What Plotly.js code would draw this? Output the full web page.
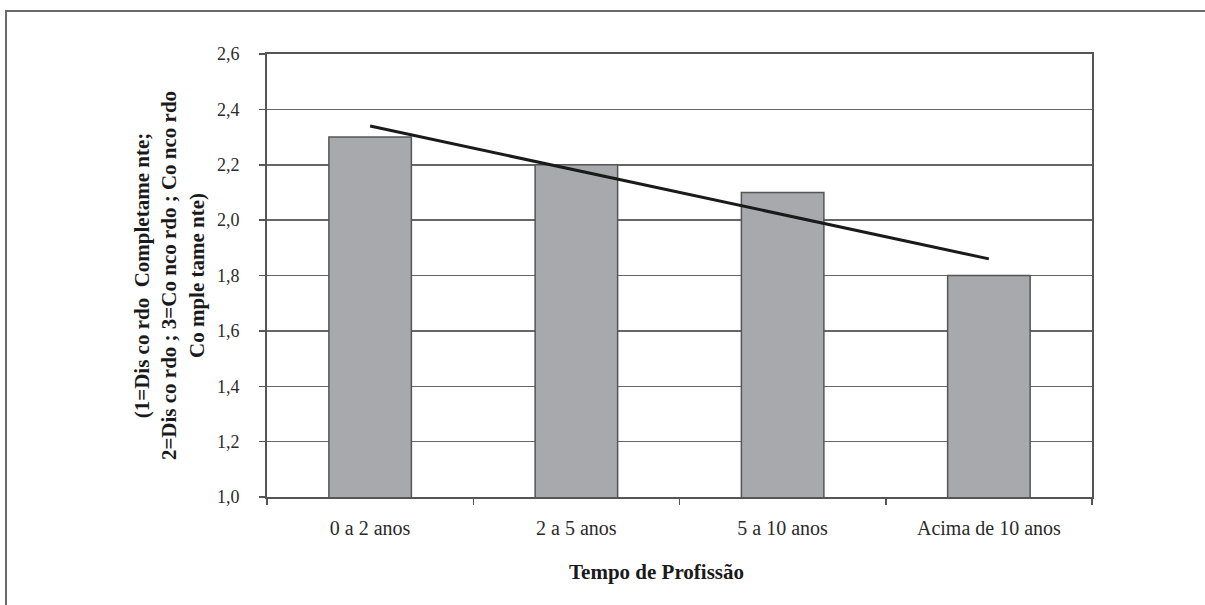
<!DOCTYPE html>
<html>
<head>
<meta charset="utf-8">
<script src="https://cdn.plot.ly/plotly-3.0.1.min.js"></script>
<style>
  html, body { margin: 0; padding: 0; background: #fff; }
  #frame { position: absolute; left: 5px; top: 10px; width: 1200px; height: 595px;
           border-left: 2px solid #6a6a6a; border-top: 2px solid #6a6a6a; }
  #chart { position: absolute; left: 0; top: 0; width: 1205px; height: 605px; }
</style>
</head>
<body>
<div id="frame"></div>
<div id="chart"></div>
<script>
const categories = ['0 a 2 anos', '2 a 5 anos', '5 a 10 anos', 'Acima de 10 anos'];
const values = [2.3, 2.2, 2.1, 1.8];
const trendCategories = ['0 a 2 anos', 'Acima de 10 anos'];
const trendValues = [2.34, 1.86];
const yTitleLines = ['(1=Dis co rdo  Completame nte;', '2=Dis co rdo ; 3=Co nco rdo ; Co nco rdo', 'Co mple tame nte)'];
const xTitle = 'Tempo de Profissão';

const serif = '"Liberation Serif", "DejaVu Serif", serif';

const traces = [
  {
    type: 'bar', x: categories, y: values,
    marker: { color: '#a8a9ac', line: { color: '#555555', width: 1.5 } },
    hoverinfo: 'none'
  },
  {
    type: 'scatter', mode: 'lines', x: trendCategories, y: trendValues,
    line: { color: '#1a1a1a', width: 3 },
    hoverinfo: 'none'
  }
];

const layout = {
  width: 1205, height: 605,
  paper_bgcolor: 'rgba(0,0,0,0)', plot_bgcolor: 'rgba(0,0,0,0)',
  margin: { l: 267, r: 113, t: 54, b: 108 },
  showlegend: false,
  bargap: 0.6,
  separators: ',.',
  font: { family: serif, color: '#2a2a2a', size: 17 },
  xaxis: {
    type: 'category',
    showline: true, linecolor: '#555555', linewidth: 2, mirror: true,
    ticks: 'outside', tickson: 'boundaries', ticklen: 6, tickcolor: '#555555', tickwidth: 1.5,
    ticklabelstandoff: 12,
    tickfont: { family: serif, size: 20, color: '#2a2a2a' },
    showgrid: false, zeroline: false
  },
  yaxis: {
    range: [1.0, 2.6], dtick: 0.2, tick0: 1.0, tickformat: '.1f',
    showline: true, linecolor: '#555555', linewidth: 2, mirror: true,
    ticks: 'outside', ticklen: 6, tickcolor: '#555555', tickwidth: 1.5,
    ticklabelstandoff: 16,
    tickfont: { family: serif, size: 18, color: '#2a2a2a' },
    showgrid: true, gridcolor: '#666666', gridwidth: 1.5, zeroline: false,
    title: { text: yTitleLines.join('<br>'), font: { family: serif, size: 21, color: '#1a1a1a', weight: 'bold' }, standoff: 7 }
  },
  annotations: [
    { text: '<b>' + xTitle + '</b>', xref: 'paper', yref: 'paper', x: 0.472, y: -0.17,
      xanchor: 'center', yanchor: 'middle', showarrow: false,
      font: { family: serif, size: 21, color: '#1a1a1a' } }
  ]
};

Plotly.newPlot('chart', traces, layout, { displayModeBar: false, staticPlot: true });
</script>
</body>
</html>
